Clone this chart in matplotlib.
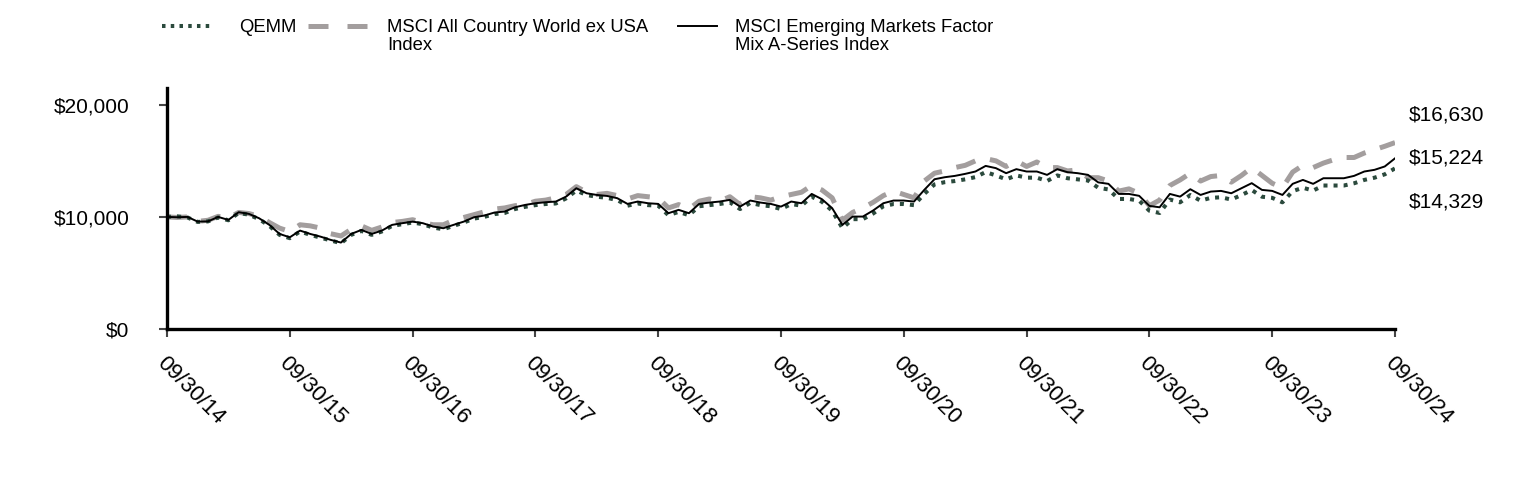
import matplotlib.pyplot as plt
from matplotlib.lines import Line2D

plt.rcParams['font.family'] = ['Liberation Sans', 'DejaVu Sans']

# growth of $10,000, monthly from 09/30/14 to 09/30/24
tick_labels = ['09/30/14', '09/30/15', '09/30/16', '09/30/17', '09/30/18', '09/30/19',
               '09/30/20', '09/30/21', '09/30/22', '09/30/23', '09/30/24']

qemm = [10000, 10050, 9950, 9550, 9600, 9950, 9700, 10350, 10200, 9800, 9200, 8400,
        8100, 8700, 8400, 8150, 7900, 7650, 8400, 8750, 8400, 8700, 9200, 9350,
        9500, 9350, 9050, 8900, 9200, 9500, 9850, 10000, 10250, 10350, 10700, 10900,
        11050, 11150, 11200, 11650, 12350, 11950, 11800, 11700, 11500, 11000, 11200, 11050,
        11000, 10150, 10450, 10150, 10950, 11050, 11150, 11300, 10700, 11250, 11050, 10950,
        10700, 11150, 11000, 11800, 11350, 10550, 9000, 9800, 9800, 10300, 10950, 11150,
        11150, 11050, 12050, 12900, 13100, 13200, 13350, 13550, 14000, 13700, 13350, 13700,
        13500, 13500, 13200, 13700, 13450, 13350, 13250, 12600, 12450, 11600, 11600, 11450,
        10550, 10350, 11550, 11300, 11950, 11450, 11700, 11750, 11550, 11950, 12400, 11800,
        11700, 11300, 12300, 12600, 12350, 12800, 12800, 12800, 13000, 13300, 13500, 13800,
        14329]

acwi_ex_usa = [10000, 9950, 10000, 9600, 9700, 10050, 9900, 10400, 10300, 10050, 9500, 9000,
               8700, 9300, 9200, 9000, 8500, 8300, 8900, 9200, 8800, 9100, 9500, 9600,
               9750, 9500, 9300, 9300, 9700, 9950, 10200, 10450, 10700, 10800, 11000, 11100,
               11400, 11500, 11700, 12000, 12700, 12200, 12000, 12100, 11900, 11600, 11900, 11800,
               11700, 10800, 11100, 10700, 11400, 11600, 11400, 11800, 11100, 11800, 11700, 11500,
               11800, 12000, 12200, 12800, 12400, 11700, 9700, 10400, 10800, 11300, 11900, 12300,
               12000, 11700, 13200, 13900, 14100, 14400, 14600, 15000, 15200, 15000, 14500, 15000,
               14500, 14900, 14400, 14400, 14100, 14200, 13500, 13500, 13200, 12300, 12500, 12100,
               11000, 11500, 12800, 13300, 13900, 13200, 13600, 13700, 13100, 13700, 14400, 13700,
               13000, 12600, 14000, 14600, 14400, 14800, 15100, 15300, 15300, 15700, 16000, 16300,
               16630]

em_factor_mix = [10000, 9970, 10000, 9580, 9600, 10000, 9730, 10420, 10270, 9880, 9290, 8480,
                 8180, 8780, 8480, 8240, 7950, 7710, 8480, 8840, 8480, 8780, 9290, 9440,
                 9580, 9440, 9140, 8990, 9290, 9580, 9970, 10120, 10390, 10480, 10860, 11070,
                 11220, 11310, 11370, 11810, 12560, 12110, 11960, 11870, 11670, 11160, 11370, 11220,
                 11160, 10330, 10630, 10330, 11160, 11280, 11370, 11520, 10920, 11460, 11280, 11160,
                 10920, 11370, 11220, 12050, 11580, 10780, 9290, 10030, 10030, 10570, 11220, 11460,
                 11460, 11370, 12410, 13360, 13540, 13660, 13840, 14050, 14550, 14350, 13900, 14260,
                 14050, 14050, 13750, 14260, 13990, 13900, 13750, 13080, 12950, 12050, 12050, 11880,
                 10980, 10860, 12050, 11810, 12470, 11960, 12260, 12320, 12110, 12560, 13010, 12410,
                 12320, 11960, 12950, 13300, 12950, 13450, 13450, 13450, 13660, 14050, 14200, 14500,
                 15224]

months = list(range(len(qemm)))

GREEN = '#2b4a3d'
GRAY = '#a39e9e'
W, H = 1524, 480

fig = plt.figure(figsize=(15.24, 4.8), dpi=100)
ax = fig.add_axes([167 / W, 1 - 329 / H, (1395 - 167) / W, (329 - 88) / H])

ax.plot(months, acwi_ex_usa, color=GRAY, lw=3.6, dashes=(4, 3), dash_capstyle='butt')
ax.plot(months, qemm, color=GREEN, lw=2.9, dashes=(1, 1.5), dash_capstyle='butt')
ax.plot(months, em_factor_mix, color='black', lw=1.4)

ax.set_xlim(0, 120)
ax.set_ylim(0, 21500)
ax.set_xticks(range(0, 121, 12))
ax.set_xticklabels(tick_labels, rotation=-45, ha='left', va='top',
                   rotation_mode='anchor', fontsize=16)
ax.set_yticks([0, 10000, 20000])
ax.set_yticklabels(['$0', '$10,000', '$20,000'], fontsize=15)
ax.tick_params(axis='y', length=6, width=1.5, color='#444444', pad=21)
ax.tick_params(axis='x', length=6, width=1.5, color='#444444', pad=11)

for side in ['top', 'right']:
    ax.spines[side].set_visible(False)
for side in ['left', 'bottom']:
    ax.spines[side].set_linewidth(2.4)

# end values, spaced apart around the middle series
gap = 3900
ends = [acwi_ex_usa[-1], em_factor_mix[-1], qemm[-1]]
label_y = [em_factor_mix[-1] + gap, em_factor_mix[-1], em_factor_mix[-1] - gap]
for v, y in zip(ends, label_y):
    ax.text(121.3, y, f'${v:,.0f}', fontsize=15, va='center', ha='left', clip_on=False)

# legend drawn by hand so handles line up with the first text line
legend_y = 1 - 26 / H
fig.add_artist(Line2D([162 / W, 213 / W], [legend_y, legend_y], transform=fig.transFigure,
                      color=GREEN, lw=2.9, dashes=(0.87, 1.3), dash_capstyle='butt'))
fig.add_artist(Line2D([308 / W, 367 / W], [legend_y, legend_y], transform=fig.transFigure,
                      color=GRAY, lw=3.6, dashes=(4, 3.8), dash_capstyle='butt'))
fig.add_artist(Line2D([678 / W, 717 / W], [legend_y, legend_y], transform=fig.transFigure,
                      color='black', lw=1.4))
legend_text = [(239, 'QEMM'),
               (387, 'MSCI All Country World ex USA\nIndex'),
               (735, 'MSCI Emerging Markets Factor\nMix A-Series Index')]
for x, s in legend_text:
    fig.text(x / W, 1 - 19 / H, s, fontsize=13.3, va='top', ha='left', linespacing=1.05)

fig.savefig('out.png', dpi=100)
